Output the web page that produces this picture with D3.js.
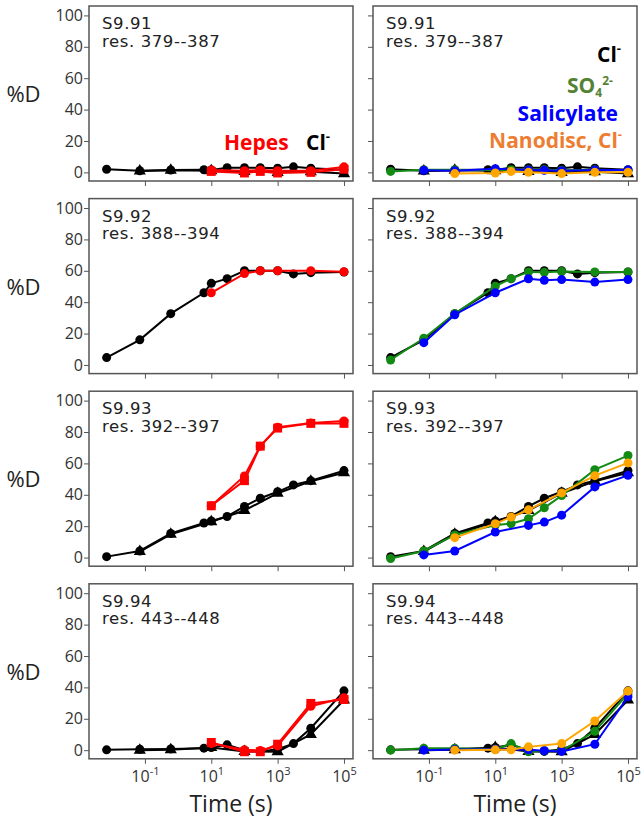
<!DOCTYPE html>
<html>
<head>
<meta charset="utf-8">
<script src="https://cdn.jsdelivr.net/npm/d3@7"></script>
<style>
  body { margin: 0; background: #fff; }
  svg text { font-family: "Open Sans", sans-serif; }
</style>
</head>
<body>
<div id="chart"></div>
<script>
// peptide labels
const peptides = ["S9.91", "S9.92", "S9.93", "S9.94"];
const residues = ["res. 379--387", "res. 388--394", "res. 392--397", "res. 443--448"];

// time points (s) of each series
const tClA   = [0.007, 0.07, 0.6, 6, 10, 30, 100, 300, 1000, 3000, 10000, 100000];
const tClB   = [0.07, 0.6, 10, 100, 1000, 10000, 100000];
const tHepes = [10, 100, 300, 1000, 10000, 100000];
const tSO4   = [0.007, 0.07, 0.6, 10, 30, 100, 300, 1000, 10000, 100000];
const tSal   = [0.07, 0.6, 10, 100, 300, 1000, 10000, 100000];
const tNano  = [0.6, 10, 30, 100, 1000, 10000, 100000];

// %D values, one row per peptide
const clA = [
  [2, 1, 1.5, 1.7, 1.5, 3, 3, 3, 2.7, 3.5, 2.7, 1.7],
  [4.7, 16, 32.7, 46, 52, 55, 60, 60, 60, 58, 58.8, 59.2],
  [0.6, 4.2, 15.4, 22, 23.3, 26.2, 32.6, 37.8, 41.9, 46.3, 49, 55.4],
  [0.2, 0.6, 0.8, 1.3, 1.7, 3.4, 0, -0.8, 0.6, 4.2, 14, 37.8]
];
const clB = [
  [0.8, 1.3, 1, 0.6, 0, 0.4, -0.8],
  null,
  [3.8, 14.8, 22.8, 30, 41, 48.6, 54],
  [0, 0.2, 1.7, -0.8, -1, 10, 32]
];
const hepesA = [
  [0.6, -0.4, 0.6, -0.4, 0, 2],
  null,
  [33, 49, 71, 82.5, 85.5, 85.5],
  [4.9, -1, -1, 3.8, 29.8, 32.3]
];
const hepesB = [
  [1.5, 1, 1.5, 1, 1, 3.5],
  [46, 58.2, 60, 60, 60, 59.4],
  [33, 52, 71, 83, 85.8, 87],
  [4.2, 0.2, -0.2, 2.7, 28, 33.4]
];
const so4 = [
  [0.6, 1.7, 1.7, 1.3, 1.7, 1.7, 1.7, 1.3, 1.7, 1.3],
  [3.2, 17, 32.6, 50.2, 55, 59.3, 59, 59.5, 59.3, 59.3],
  [-0.6, 4.2, 14.4, 20.7, 21.6, 24.7, 31.7, 39.5, 56, 65],
  [0, 1.3, 1.3, 0.6, 4.2, -1, -0.4, -0.4, 12, 36]
];
const salicylate = [
  [1.3, 1, 2.3, 1.5, 1.3, 1, 1.5, 1.5],
  [14.2, 32, 46, 54.9, 54, 54.4, 52.8, 54.4],
  [1.7, 4.2, 16.3, 20.5, 22.6, 27, 45, 52.4],
  [0, 0.5, 0.6, 0.3, -0.4, -0.8, 3.8, 34]
];
const nanodisc = [
  [-0.8, -0.4, 0.6, 0, -0.8, 0, 0],
  null,
  [12.7, 21.6, 25.8, 30.4, 41.2, 52.2, 60.3],
  [0, 0.2, 0.2, 2.1, 4.2, 18.6, 37.6]
];

const yTicks = [0, 20, 40, 60, 80, 100];
const xTicks = [0.1, 10, 1000, 100000];
const xTickExp = ["-1", "1", "3", "5"];

const COLORS = {
  black: '#000',
  red: '#ff0000',
  green: '#138a13',
  blue: '#0000ff',
  orange: '#ffa500',
  legendGreen: '#548235',
  legendOrange: '#ed7d31',
  axis: '#555',
  tick: '#333'
};

const plotW = 264, plotH = 175;
const colX = [89, 373];
const rowY = [6, 198.6, 391.2, 583.8];

const svg = d3.select('#chart').append('svg')
  .attr('width', 643).attr('height', 825);

const x = d3.scaleLog().domain([0.00206, 187000]).range([0, plotW]);
const y = d3.scaleLinear().domain([-5.5, 106]).range([plotH, 0]);

const zip = (ts, vs) => ts.map((t, i) => ({t, v: vs[i]}));
const line = d3.line().x(d => x(d.t)).y(d => y(d.v));

const drawSeries = (g, ts, vs, color, shape) => {
  if (!vs) return;
  const pts = zip(ts, vs);
  g.append('path').datum(pts)
    .attr('d', line)
    .attr('fill', 'none')
    .attr('stroke', color)
    .attr('stroke-width', 2);
  if (shape === 'circle') {
    g.selectAll(null).data(pts).enter().append('circle')
      .attr('cx', d => x(d.t)).attr('cy', d => y(d.v))
      .attr('r', 4.5).attr('fill', color);
  } else {
    const sym = d3.symbol()
      .type(shape === 'square' ? d3.symbolSquare : d3.symbolTriangle)
      .size(shape === 'square' ? 80 : 64);
    g.selectAll(null).data(pts).enter().append('path')
      .attr('transform', d => `translate(${x(d.t)},${y(d.v)})`)
      .attr('d', sym).attr('fill', color);
  }
};

rowY.forEach((top, r) => {
  colX.forEach((left, c) => {
    const g = svg.append('g').attr('transform', `translate(${left},${top})`);

    // y axis
    const yAxis = g.append('g').call(
      d3.axisLeft(y).tickValues(yTicks).tickSize(5).tickPadding(1)
        .tickFormat(c === 0 ? d3.format('d') : '')
    );
    yAxis.select('.domain').remove();
    yAxis.selectAll('line').attr('stroke', COLORS.axis);
    yAxis.selectAll('text')
      .attr('fill', COLORS.tick)
      .style('font-size', '16px')
      .style('font-family', '"Open Sans", sans-serif');

    // x axis
    const xAxis = g.append('g').attr('transform', `translate(0,${plotH})`)
      .call(d3.axisBottom(x).tickValues(xTicks).tickSize(5).tickFormat(''));
    xAxis.select('.domain').remove();
    xAxis.selectAll('line').attr('stroke', COLORS.axis);
    if (r === rowY.length - 1) {
      const lbl = xAxis.selectAll('.tick').append('text')
        .attr('y', 23)
        .attr('fill', COLORS.tick)
        .attr('text-anchor', 'middle')
        .style('font-size', '16px');
      lbl.append('tspan').text('10');
      lbl.append('tspan')
        .attr('dy', -7)
        .style('font-size', '11px')
        .text((d, i) => xTickExp[i]);
    }

    // frame
    g.append('rect')
      .attr('width', plotW).attr('height', plotH)
      .attr('fill', 'none')
      .attr('stroke', COLORS.axis)
      .attr('stroke-width', 1.5);

    // peptide text
    const lab = g.append('text')
      .attr('x', 13).attr('y', 23.3)
      .attr('fill', '#222')
      .style('font-family', '"DejaVu Sans", sans-serif')
      .style('font-size', '16.5px')
      .style('letter-spacing', '0.6px');
    lab.append('tspan').text(peptides[r]);
    lab.append('tspan').attr('x', 13).attr('dy', 17.4).text(residues[r]);

    // data: triangles under circles
    const data = g.append('g');
    drawSeries(data, tClB, clB[r], COLORS.black, 'triangle');
    drawSeries(data, tClA, clA[r], COLORS.black, 'circle');
    if (c === 0) {
      drawSeries(data, tHepes, hepesB[r], COLORS.red, 'circle');
      drawSeries(data, tHepes, hepesA[r], COLORS.red, 'square');
    } else {
      drawSeries(data, tSO4, so4[r], COLORS.green, 'circle');
      drawSeries(data, tSal, salicylate[r], COLORS.blue, 'circle');
      drawSeries(data, tNano, nanodisc[r], COLORS.orange, 'circle');
    }
  });

  // %D label
  svg.append('text')
    .attr('x', 23.5).attr('y', top + 87)
    .attr('text-anchor', 'middle')
    .attr('dominant-baseline', 'central')
    .style('font-size', '22px')
    .attr('fill', '#222')
    .text('%D');
});

// x axis titles
colX.forEach(left => {
  svg.append('text')
    .attr('x', left + plotW / 2 + 10).attr('y', 812)
    .attr('text-anchor', 'middle')
    .style('font-size', '23px')
    .attr('fill', '#222')
    .text('Time (s)');
});

// legend, left column
const legL = svg.append('g').style('font-weight', 'bold').style('font-size', '21px');
legL.append('text').attr('x', 224).attr('y', 149.5)
  .attr('fill', COLORS.red).text('Hepes');
const clL = legL.append('text').attr('x', 306).attr('y', 149.5).attr('fill', COLORS.black);
clL.append('tspan').text('Cl');
clL.append('tspan').attr('dy', -9).style('font-size', '13px').text('-');

// legend, right column
const legR = svg.append('g').style('font-weight', 'bold').style('font-size', '21px')
  .attr('text-anchor', 'end');
const clR = legR.append('text').attr('x', 621).attr('y', 61.7).attr('fill', COLORS.black);
clR.append('tspan').text('Cl');
clR.append('tspan').attr('dy', -9).style('font-size', '13px').text('-');

const so = legR.append('text').attr('y', 92.5).attr('fill', COLORS.legendGreen)
  .attr('text-anchor', 'start').attr('x', 567);
so.append('tspan').text('SO');
so.append('tspan').attr('dy', 4).style('font-size', '12px').text('4');
so.append('tspan').attr('dy', -12).style('font-size', '12px').text('2-');

legR.append('text').attr('x', 618).attr('y', 120.5).attr('fill', COLORS.blue).text('Salicylate');

const nd = legR.append('text').attr('x', 622).attr('y', 148.3).attr('fill', COLORS.legendOrange);
nd.append('tspan').text('Nanodisc, Cl');
nd.append('tspan').attr('dy', -9).style('font-size', '13px').text('-');
</script>
</body>
</html>
